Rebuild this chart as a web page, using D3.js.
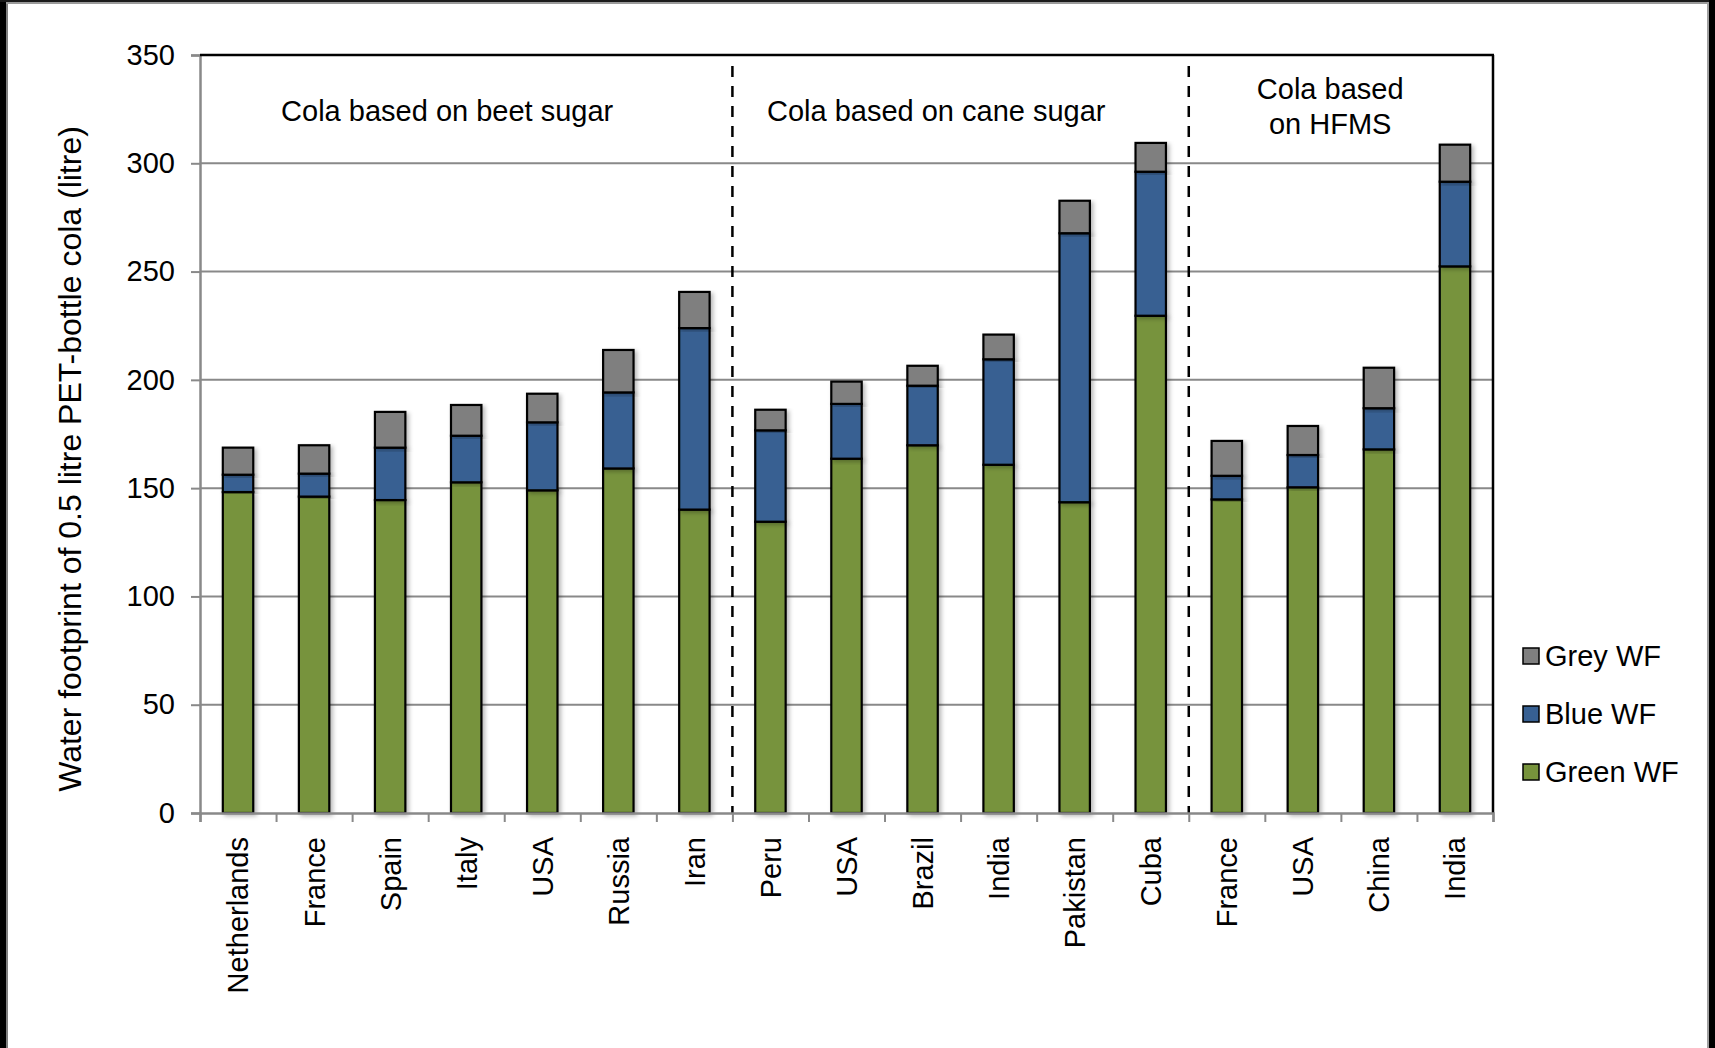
<!DOCTYPE html>
<html>
<head>
<meta charset="utf-8">
<script src="https://cdn.jsdelivr.net/npm/d3@7"></script>
<style>
  html, body { margin: 0; padding: 0; background: #fff; }
  svg { display: block; font-family: "Liberation Sans", Arial, sans-serif; }
</style>
</head>
<body>
<svg id="chart" width="1715" height="1048"></svg>
<script>
// Countries, in plotting order (beet sugar, cane sugar, HFMS)
const categories = ["Netherlands", "France", "Spain", "Italy", "USA", "Russia", "Iran",
                    "Peru", "USA", "Brazil", "India", "Pakistan", "Cuba",
                    "France", "USA", "China", "India"];

// Water footprint components (litre per 0.5 litre bottle)
const greenWF = [148.2, 146.1, 144.5, 152.7, 149.0, 159.1, 140.1,
                 134.5, 163.6, 169.8, 160.8, 143.5, 229.6,
                 144.8, 150.4, 167.9, 252.4];
const blueWF  = [8.0, 10.6, 24.2, 21.5, 31.4, 35.1, 83.8,
                 42.2, 25.3, 27.5, 48.7, 124.2, 66.5,
                 10.9, 14.9, 19.0, 39.1];
const greyWF  = [12.5, 13.1, 16.5, 14.2, 13.2, 19.6, 16.7,
                 9.5, 10.3, 9.2, 11.4, 15.0, 13.3,
                 16.1, 13.4, 18.7, 17.1];

// Sugar-source groups: label lines, first category index, number of categories
const groupLabels = [["Cola based on beet sugar"], ["Cola based on cane sugar"], ["Cola based", "on HFMS"]];
const groupStarts = [0, 7, 13];
const groupSizes  = [7, 6, 4];

const yTicks = [0, 50, 100, 150, 200, 250, 300, 350];
const seriesKeys   = ["green", "blue", "grey"];
const seriesNames  = {green: "Green WF", blue: "Blue WF", grey: "Grey WF"};
const seriesColors = {green: "#77933C", blue: "#376092", grey: "#7F7F7F"};

const svg = d3.select("#chart");
const W = 1715, H = 1048;
const plot = {left: 200, right: 1493, top: 55, bottom: 813};
const fontSize = 29;

// Background
svg.append("rect").attr("x", 0).attr("y", 0).attr("width", W).attr("height", H).attr("fill", "#fff");

const defs = svg.append("defs");
const shadow = defs.append("filter").attr("id", "barShadow")
  .attr("x", "-20%").attr("y", "-5%").attr("width", "150%").attr("height", "115%");
shadow.append("feDropShadow").attr("dx", 2.5).attr("dy", 2).attr("stdDeviation", 2)
  .attr("flood-color", "#000").attr("flood-opacity", 0.28);

// Scales
const xIdx = d3.scaleLinear().domain([0, categories.length]).range([plot.left, plot.right]);
const x = d3.scaleBand().domain(d3.range(categories.length)).range([plot.left, plot.right]).padding(0);
const y = d3.scaleLinear().domain([0, 350]).range([plot.bottom, plot.top]);
const barW = x.bandwidth() * 0.4;

// Gridlines
svg.append("g").selectAll("line").data(yTicks.filter(t => t > 0 && t < 350)).join("line")
  .attr("x1", plot.left).attr("x2", plot.right)
  .attr("y1", d => y(d)).attr("y2", d => y(d))
  .attr("stroke", "#898989").attr("stroke-width", 2);

// Y axis
const yAxis = svg.append("g").attr("transform", `translate(${plot.left},0)`)
  .call(d3.axisLeft(y).tickValues(yTicks).tickSize(9).tickPadding(16).tickFormat(d3.format("d")));
yAxis.select(".domain").attr("stroke", "#898989").attr("stroke-width", 2.5);
yAxis.selectAll(".tick line").attr("stroke", "#898989").attr("stroke-width", 2);
yAxis.selectAll(".tick text").attr("font-size", fontSize).attr("fill", "#000")
  .attr("font-family", "'Liberation Sans', Arial, sans-serif");

// Plot border (top and right)
svg.append("line").attr("x1", plot.left).attr("x2", plot.right + 1)
  .attr("y1", plot.top).attr("y2", plot.top).attr("stroke", "#000").attr("stroke-width", 2.5);
svg.append("line").attr("x1", plot.right).attr("x2", plot.right)
  .attr("y1", plot.top).attr("y2", plot.bottom).attr("stroke", "#000").attr("stroke-width", 2.5);

// Group separators
svg.append("g").selectAll("line").data(groupStarts.slice(1)).join("line")
  .attr("x1", d => xIdx(d)).attr("x2", d => xIdx(d))
  .attr("y1", 66).attr("y2", plot.bottom)
  .attr("stroke", "#000").attr("stroke-width", 2.5).attr("stroke-dasharray", "11,9");

// Stacked bars
const rows = categories.map((c, i) => ({i, green: greenWF[i], blue: blueWF[i], grey: greyWF[i]}));
const stacked = d3.stack().keys(seriesKeys)(rows);

const barsG = svg.append("g");
barsG.selectAll("g").data(stacked).join("g")
  .attr("fill", d => seriesColors[d.key])
  .selectAll("rect").data(d => d).join("rect")
  .attr("x", d => x(d.data.i) + (x.bandwidth() - barW) / 2)
  .attr("width", barW)
  .attr("y", d => y(d[1]))
  .attr("height", d => y(d[0]) - y(d[1]))
  .attr("stroke", "#000").attr("stroke-width", 2.2)
  .attr("filter", "url(#barShadow)");

// X axis: ticks at category boundaries
const xAxis = svg.append("g").attr("transform", `translate(0,${plot.bottom})`)
  .call(d3.axisBottom(xIdx).tickValues(d3.range(categories.length + 1)).tickSize(9).tickFormat(""));
xAxis.select(".domain").attr("stroke", "#898989").attr("stroke-width", 2.5);
xAxis.selectAll(".tick line").attr("stroke", "#898989").attr("stroke-width", 2);

// Category labels, rotated
svg.append("g").selectAll("text").data(categories).join("text")
  .attr("transform", (d, i) => `translate(${x(i) + x.bandwidth() / 2},837) rotate(-90)`)
  .attr("text-anchor", "end").attr("dy", "0.36em")
  .attr("font-size", fontSize).attr("fill", "#000")
  .text(d => d);

// Group titles
const groupLabelPos = [3.25, 9.68, 14.86];
const gl = svg.append("g");
groupLabels.forEach((lines, g) => {
  const baseY = lines.length === 1 ? 121 : 98.5;
  lines.forEach((t, k) => {
    gl.append("text").attr("x", xIdx(groupLabelPos[g])).attr("y", baseY + k * 35)
      .attr("text-anchor", "middle").attr("font-size", fontSize).attr("fill", "#000").text(t);
  });
});

// Y axis title
svg.append("text")
  .attr("transform", "translate(69,459) rotate(-90)")
  .attr("text-anchor", "middle").attr("dy", "0.36em")
  .attr("font-size", 32).attr("fill", "#000")
  .text("Water footprint of 0.5 litre PET-bottle cola (litre)");

// Legend
const legendKeys = ["grey", "blue", "green"];
const legend = svg.append("g").attr("transform", "translate(1523,648)");
legendKeys.forEach((k, i) => {
  const row = legend.append("g").attr("transform", `translate(0,${i * 58})`);
  row.append("rect").attr("x", 0).attr("y", 0).attr("width", 16).attr("height", 16)
    .attr("fill", seriesColors[k]).attr("stroke", "#000").attr("stroke-width", 1.5);
  row.append("text").attr("x", 22).attr("y", 17.5)
    .attr("font-size", fontSize).attr("fill", "#000").text(seriesNames[k]);
});

// Outer frame edges
svg.append("rect").attr("x", 0).attr("y", 0).attr("width", 6).attr("height", H).attr("fill", "#000");
svg.append("rect").attr("x", 6).attr("y", 0).attr("width", 2).attr("height", H).attr("fill", "#808080");
svg.append("rect").attr("x", 0).attr("y", 0).attr("width", W).attr("height", 2).attr("fill", "#1a1a1a");
svg.append("rect").attr("x", 6).attr("y", 2).attr("width", W - 12).attr("height", 2).attr("fill", "#9a9a9a");
svg.append("rect").attr("x", W - 6).attr("y", 0).attr("width", 6).attr("height", H).attr("fill", "#000");
svg.append("rect").attr("x", W - 8).attr("y", 2).attr("width", 2).attr("height", H).attr("fill", "#a0a0a0");
</script>
</body>
</html>
